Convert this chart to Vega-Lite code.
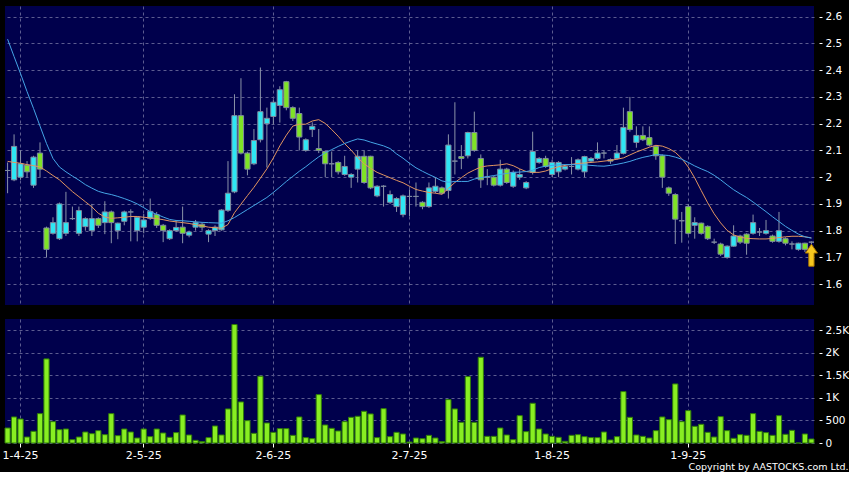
{
"$schema": "https://vega.github.io/schema/vega-lite/v6.json",
"background": "#000000",
"padding": {"left": 2, "top": 6, "right": 0, "bottom": 0},
"config": {
 "view": {"fill": "#00004c", "stroke": null},
 "axis": {"labelFont": "DejaVu Sans", "labelColor": "#ffffff", "gridColor": "#5c5c90", "gridDash": [3, 3], "gridWidth": 1, "tickColor": "#ffffff", "domain": false, "title": null, "labelOverlap": false},
 "concat": {"spacing": 14}
},
"title": {"text": "Copyright by AASTOCKS.com Ltd.", "orient": "bottom", "anchor": "end", "color": "#ffffff", "font": "DejaVu Sans", "fontSize": 9.5, "fontWeight": "normal", "offset": 2},
"data": {"values": [
{"d":"2025-03-27","o":2.025,"h":2.055,"l":1.94,"c":2.025,"v":333,"m1":2.059,"m2":2.516},
{"d":"2025-03-28","o":1.99,"h":2.16,"l":1.985,"c":2.115,"v":578,"m1":2.055,"m2":2.451},
{"d":"2025-03-31","o":2.0,"h":2.10,"l":1.99,"c":2.05,"v":533,"m1":2.052,"m2":2.387},
{"d":"2025-04-01","o":2.045,"h":2.06,"l":2.0,"c":2.02,"v":133,"m1":2.047,"m2":2.320},
{"d":"2025-04-02","o":1.97,"h":2.08,"l":1.96,"c":2.075,"v":259,"m1":2.043,"m2":2.257},
{"d":"2025-04-03","o":2.09,"h":2.13,"l":2.0,"c":2.03,"v":652,"m1":2.038,"m2":2.191},
{"d":"2025-04-07","o":1.81,"h":1.815,"l":1.70,"c":1.73,"v":1867,"m1":2.023,"m2":2.126},
{"d":"2025-04-08","o":1.79,"h":1.85,"l":1.785,"c":1.83,"v":474,"m1":2.006,"m2":2.070},
{"d":"2025-04-09","o":1.77,"h":1.905,"l":1.765,"c":1.90,"v":296,"m1":1.990,"m2":2.038},
{"d":"2025-04-10","o":1.79,"h":1.945,"l":1.78,"c":1.83,"v":311,"m1":1.968,"m2":2.020},
{"d":"2025-04-11","o":1.845,"h":1.89,"l":1.84,"c":1.845,"v":74,"m1":1.946,"m2":2.004},
{"d":"2025-04-14","o":1.79,"h":1.89,"l":1.78,"c":1.875,"v":133,"m1":1.927,"m2":1.989},
{"d":"2025-04-15","o":1.815,"h":1.85,"l":1.80,"c":1.845,"v":244,"m1":1.908,"m2":1.972},
{"d":"2025-04-16","o":1.80,"h":1.90,"l":1.78,"c":1.845,"v":207,"m1":1.889,"m2":1.959},
{"d":"2025-04-17","o":1.845,"h":1.85,"l":1.81,"c":1.82,"v":274,"m1":1.865,"m2":1.947},
{"d":"2025-04-22","o":1.83,"h":1.91,"l":1.787,"c":1.87,"v":185,"m1":1.851,"m2":1.940},
{"d":"2025-04-23","o":1.87,"h":1.875,"l":1.753,"c":1.83,"v":652,"m1":1.846,"m2":1.935},
{"d":"2025-04-24","o":1.80,"h":1.83,"l":1.768,"c":1.828,"v":163,"m1":1.848,"m2":1.928},
{"d":"2025-04-25","o":1.835,"h":1.875,"l":1.82,"c":1.87,"v":311,"m1":1.850,"m2":1.920},
{"d":"2025-04-28","o":1.87,"h":1.88,"l":1.76,"c":1.87,"v":244,"m1":1.853,"m2":1.911},
{"d":"2025-04-29","o":1.80,"h":1.85,"l":1.76,"c":1.85,"v":111,"m1":1.853,"m2":1.900},
{"d":"2025-04-30","o":1.813,"h":1.862,"l":1.79,"c":1.84,"v":311,"m1":1.850,"m2":1.886},
{"d":"2025-05-02","o":1.846,"h":1.92,"l":1.84,"c":1.872,"v":141,"m1":1.848,"m2":1.871},
{"d":"2025-05-06","o":1.86,"h":1.87,"l":1.81,"c":1.82,"v":311,"m1":1.845,"m2":1.861},
{"d":"2025-05-07","o":1.82,"h":1.825,"l":1.757,"c":1.80,"v":222,"m1":1.841,"m2":1.851},
{"d":"2025-05-08","o":1.77,"h":1.805,"l":1.765,"c":1.80,"v":126,"m1":1.836,"m2":1.842},
{"d":"2025-05-09","o":1.80,"h":1.84,"l":1.795,"c":1.812,"v":230,"m1":1.833,"m2":1.838},
{"d":"2025-05-12","o":1.813,"h":1.89,"l":1.753,"c":1.79,"v":622,"m1":1.830,"m2":1.837},
{"d":"2025-05-13","o":1.783,"h":1.80,"l":1.775,"c":1.795,"v":178,"m1":1.827,"m2":1.835},
{"d":"2025-05-14","o":1.813,"h":1.84,"l":1.80,"c":1.83,"v":59,"m1":1.822,"m2":1.833},
{"d":"2025-05-15","o":1.824,"h":1.83,"l":1.80,"c":1.813,"v":30,"m1":1.818,"m2":1.831},
{"d":"2025-05-16","o":1.787,"h":1.805,"l":1.757,"c":1.80,"v":119,"m1":1.813,"m2":1.830},
{"d":"2025-05-19","o":1.80,"h":1.82,"l":1.78,"c":1.813,"v":378,"m1":1.811,"m2":1.829},
{"d":"2025-05-20","o":1.803,"h":1.88,"l":1.80,"c":1.877,"v":178,"m1":1.809,"m2":1.828},
{"d":"2025-05-21","o":1.876,"h":2.06,"l":1.87,"c":1.94,"v":756,"m1":1.823,"m2":1.837},
{"d":"2025-05-22","o":1.945,"h":2.31,"l":1.94,"c":2.23,"v":2630,"m1":1.867,"m2":1.849},
{"d":"2025-05-23","o":2.23,"h":2.37,"l":2.085,"c":2.09,"v":911,"m1":1.899,"m2":1.864},
{"d":"2025-05-26","o":2.09,"h":2.095,"l":2.007,"c":2.03,"v":496,"m1":1.931,"m2":1.879},
{"d":"2025-05-27","o":2.05,"h":2.18,"l":2.045,"c":2.137,"v":215,"m1":1.962,"m2":1.894},
{"d":"2025-05-28","o":2.14,"h":2.41,"l":2.13,"c":2.245,"v":1482,"m1":1.996,"m2":1.909},
{"d":"2025-05-29","o":2.20,"h":2.26,"l":2.036,"c":2.22,"v":444,"m1":2.031,"m2":1.924},
{"d":"2025-05-30","o":2.227,"h":2.29,"l":2.197,"c":2.28,"v":237,"m1":2.072,"m2":1.943},
{"d":"2025-06-02","o":2.268,"h":2.34,"l":2.204,"c":2.327,"v":319,"m1":2.117,"m2":1.963},
{"d":"2025-06-03","o":2.357,"h":2.36,"l":2.25,"c":2.26,"v":319,"m1":2.157,"m2":1.984},
{"d":"2025-06-04","o":2.26,"h":2.265,"l":2.21,"c":2.22,"v":170,"m1":2.191,"m2":2.003},
{"d":"2025-06-05","o":2.238,"h":2.26,"l":2.10,"c":2.15,"v":578,"m1":2.198,"m2":2.022},
{"d":"2025-06-06","o":2.10,"h":2.145,"l":2.095,"c":2.14,"v":119,"m1":2.198,"m2":2.039},
{"d":"2025-06-09","o":2.178,"h":2.205,"l":2.15,"c":2.19,"v":96,"m1":2.210,"m2":2.058},
{"d":"2025-06-10","o":2.107,"h":2.18,"l":2.09,"c":2.10,"v":1074,"m1":2.215,"m2":2.076},
{"d":"2025-06-11","o":2.096,"h":2.10,"l":2.0,"c":2.05,"v":400,"m1":2.201,"m2":2.091},
{"d":"2025-06-12","o":2.05,"h":2.096,"l":2.0,"c":2.05,"v":326,"m1":2.178,"m2":2.103},
{"d":"2025-06-13","o":2.055,"h":2.06,"l":2.01,"c":2.02,"v":267,"m1":2.153,"m2":2.115},
{"d":"2025-06-16","o":2.01,"h":2.08,"l":2.005,"c":2.04,"v":474,"m1":2.125,"m2":2.126},
{"d":"2025-06-17","o":2.0,"h":2.015,"l":1.96,"c":2.01,"v":570,"m1":2.101,"m2":2.135},
{"d":"2025-06-18","o":2.03,"h":2.10,"l":1.98,"c":2.078,"v":593,"m1":2.073,"m2":2.143},
{"d":"2025-06-19","o":2.078,"h":2.10,"l":1.975,"c":1.98,"v":704,"m1":2.050,"m2":2.139},
{"d":"2025-06-20","o":2.078,"h":2.08,"l":1.955,"c":1.96,"v":645,"m1":2.033,"m2":2.131},
{"d":"2025-06-23","o":1.93,"h":1.97,"l":1.925,"c":1.966,"v":119,"m1":2.018,"m2":2.124},
{"d":"2025-06-24","o":1.966,"h":1.97,"l":1.89,"c":1.966,"v":763,"m1":2.008,"m2":2.117},
{"d":"2025-06-25","o":1.906,"h":1.95,"l":1.90,"c":1.935,"v":141,"m1":1.998,"m2":2.107},
{"d":"2025-06-26","o":1.89,"h":1.925,"l":1.87,"c":1.92,"v":237,"m1":1.988,"m2":2.087},
{"d":"2025-06-27","o":1.86,"h":1.935,"l":1.85,"c":1.93,"v":200,"m1":1.979,"m2":2.071},
{"d":"2025-06-30","o":1.928,"h":1.954,"l":1.854,"c":1.928,"v":22,"m1":1.966,"m2":2.052},
{"d":"2025-07-02","o":1.928,"h":1.98,"l":1.89,"c":1.928,"v":111,"m1":1.954,"m2":2.035},
{"d":"2025-07-03","o":1.906,"h":1.91,"l":1.88,"c":1.89,"v":96,"m1":1.948,"m2":2.022},
{"d":"2025-07-04","o":1.89,"h":1.98,"l":1.885,"c":1.96,"v":170,"m1":1.943,"m2":2.010},
{"d":"2025-07-07","o":1.947,"h":2.0,"l":1.94,"c":1.966,"v":111,"m1":1.940,"m2":1.999},
{"d":"2025-07-08","o":1.96,"h":1.965,"l":1.935,"c":1.94,"v":30,"m1":1.936,"m2":1.986},
{"d":"2025-07-09","o":1.95,"h":2.16,"l":1.92,"c":2.12,"v":963,"m1":1.958,"m2":1.981},
{"d":"2025-07-10","o":2.06,"h":2.28,"l":2.01,"c":2.06,"v":756,"m1":1.980,"m2":1.984},
{"d":"2025-07-11","o":2.077,"h":2.12,"l":2.03,"c":2.07,"v":459,"m1":1.998,"m2":1.984},
{"d":"2025-07-14","o":2.08,"h":2.17,"l":2.07,"c":2.167,"v":1475,"m1":2.015,"m2":1.984},
{"d":"2025-07-15","o":2.167,"h":2.245,"l":2.095,"c":2.10,"v":459,"m1":2.027,"m2":1.993},
{"d":"2025-07-16","o":2.07,"h":2.085,"l":1.96,"c":1.99,"v":1904,"m1":2.038,"m2":1.998},
{"d":"2025-07-17","o":2.0,"h":2.03,"l":1.97,"c":2.0,"v":148,"m1":2.042,"m2":2.002},
{"d":"2025-07-18","o":2.0,"h":2.005,"l":1.965,"c":1.97,"v":148,"m1":2.044,"m2":2.006},
{"d":"2025-07-21","o":1.97,"h":2.065,"l":1.965,"c":2.03,"v":333,"m1":2.046,"m2":2.010},
{"d":"2025-07-22","o":2.03,"h":2.035,"l":1.975,"c":1.98,"v":178,"m1":2.050,"m2":2.014},
{"d":"2025-07-23","o":1.966,"h":2.025,"l":1.96,"c":2.018,"v":74,"m1":2.043,"m2":2.018},
{"d":"2025-07-24","o":2.0,"h":2.03,"l":1.99,"c":2.01,"v":607,"m1":2.031,"m2":2.019},
{"d":"2025-07-25","o":1.96,"h":1.985,"l":1.955,"c":1.98,"v":252,"m1":2.021,"m2":2.021},
{"d":"2025-07-28","o":2.018,"h":2.17,"l":2.01,"c":2.096,"v":882,"m1":2.018,"m2":2.026},
{"d":"2025-07-29","o":2.055,"h":2.075,"l":2.05,"c":2.07,"v":311,"m1":2.018,"m2":2.036},
{"d":"2025-07-30","o":2.07,"h":2.08,"l":2.035,"c":2.04,"v":200,"m1":2.023,"m2":2.041},
{"d":"2025-07-31","o":2.01,"h":2.065,"l":2.0,"c":2.055,"v":148,"m1":2.032,"m2":2.044},
{"d":"2025-08-01","o":2.02,"h":2.06,"l":2.0,"c":2.055,"v":126,"m1":2.039,"m2":2.046},
{"d":"2025-08-04","o":2.03,"h":2.045,"l":2.025,"c":2.04,"v":37,"m1":2.044,"m2":2.047},
{"d":"2025-08-05","o":2.04,"h":2.075,"l":2.01,"c":2.04,"v":170,"m1":2.048,"m2":2.047},
{"d":"2025-08-06","o":2.03,"h":2.07,"l":2.025,"c":2.065,"v":185,"m1":2.051,"m2":2.047},
{"d":"2025-08-07","o":2.02,"h":2.08,"l":2.0,"c":2.077,"v":141,"m1":2.053,"m2":2.046},
{"d":"2025-08-08","o":2.06,"h":2.075,"l":2.055,"c":2.07,"v":119,"m1":2.055,"m2":2.044},
{"d":"2025-08-11","o":2.07,"h":2.13,"l":2.065,"c":2.09,"v":119,"m1":2.057,"m2":2.042},
{"d":"2025-08-12","o":2.09,"h":2.10,"l":2.07,"c":2.09,"v":244,"m1":2.060,"m2":2.041},
{"d":"2025-08-13","o":2.066,"h":2.07,"l":2.05,"c":2.06,"v":67,"m1":2.063,"m2":2.044},
{"d":"2025-08-14","o":2.07,"h":2.12,"l":2.065,"c":2.09,"v":141,"m1":2.067,"m2":2.048},
{"d":"2025-08-15","o":2.089,"h":2.26,"l":2.085,"c":2.186,"v":1141,"m1":2.072,"m2":2.053},
{"d":"2025-08-18","o":2.245,"h":2.30,"l":2.17,"c":2.178,"v":570,"m1":2.083,"m2":2.059},
{"d":"2025-08-19","o":2.13,"h":2.19,"l":2.11,"c":2.156,"v":178,"m1":2.094,"m2":2.067},
{"d":"2025-08-20","o":2.156,"h":2.19,"l":2.135,"c":2.14,"v":148,"m1":2.103,"m2":2.074},
{"d":"2025-08-21","o":2.148,"h":2.19,"l":2.115,"c":2.12,"v":111,"m1":2.112,"m2":2.079},
{"d":"2025-08-22","o":2.115,"h":2.12,"l":2.065,"c":2.08,"v":274,"m1":2.119,"m2":2.085},
{"d":"2025-08-25","o":2.08,"h":2.085,"l":1.96,"c":2.0,"v":578,"m1":2.116,"m2":2.083},
{"d":"2025-08-26","o":1.96,"h":1.965,"l":1.93,"c":1.94,"v":519,"m1":2.107,"m2":2.081},
{"d":"2025-08-27","o":1.935,"h":1.94,"l":1.75,"c":1.843,"v":1311,"m1":2.093,"m2":2.075},
{"d":"2025-08-28","o":1.837,"h":1.87,"l":1.755,"c":1.837,"v":474,"m1":2.070,"m2":2.067},
{"d":"2025-08-29","o":1.89,"h":1.90,"l":1.785,"c":1.79,"v":719,"m1":2.038,"m2":2.055},
{"d":"2025-09-01","o":1.82,"h":1.85,"l":1.77,"c":1.83,"v":370,"m1":1.997,"m2":2.042},
{"d":"2025-09-02","o":1.828,"h":1.83,"l":1.785,"c":1.79,"v":415,"m1":1.950,"m2":2.031},
{"d":"2025-09-03","o":1.816,"h":1.82,"l":1.765,"c":1.77,"v":237,"m1":1.904,"m2":2.021},
{"d":"2025-09-04","o":1.757,"h":1.77,"l":1.75,"c":1.757,"v":133,"m1":1.863,"m2":2.007},
{"d":"2025-09-05","o":1.75,"h":1.755,"l":1.705,"c":1.712,"v":585,"m1":1.829,"m2":1.990},
{"d":"2025-09-08","o":1.70,"h":1.745,"l":1.695,"c":1.742,"v":274,"m1":1.801,"m2":1.971},
{"d":"2025-09-09","o":1.742,"h":1.82,"l":1.74,"c":1.78,"v":104,"m1":1.784,"m2":1.953},
{"d":"2025-09-10","o":1.78,"h":1.785,"l":1.75,"c":1.757,"v":185,"m1":1.776,"m2":1.938},
{"d":"2025-09-11","o":1.787,"h":1.79,"l":1.71,"c":1.753,"v":170,"m1":1.771,"m2":1.924},
{"d":"2025-09-12","o":1.79,"h":1.86,"l":1.785,"c":1.83,"v":652,"m1":1.770,"m2":1.907},
{"d":"2025-09-15","o":1.795,"h":1.81,"l":1.78,"c":1.795,"v":259,"m1":1.769,"m2":1.889},
{"d":"2025-09-16","o":1.79,"h":1.84,"l":1.785,"c":1.80,"v":230,"m1":1.769,"m2":1.871},
{"d":"2025-09-17","o":1.78,"h":1.785,"l":1.755,"c":1.76,"v":170,"m1":1.771,"m2":1.852},
{"d":"2025-09-18","o":1.76,"h":1.87,"l":1.755,"c":1.80,"v":607,"m1":1.774,"m2":1.834},
{"d":"2025-09-19","o":1.77,"h":1.775,"l":1.745,"c":1.753,"v":193,"m1":1.777,"m2":1.816},
{"d":"2025-09-22","o":1.75,"h":1.76,"l":1.73,"c":1.75,"v":281,"m1":1.779,"m2":1.801},
{"d":"2025-09-23","o":1.73,"h":1.755,"l":1.725,"c":1.753,"v":0,"m1":1.779,"m2":1.787},
{"d":"2025-09-24","o":1.753,"h":1.755,"l":1.72,"c":1.73,"v":200,"m1":1.777,"m2":1.777},
{"d":"2025-09-25","o":1.757,"h":1.76,"l":1.75,"c":1.757,"v":89,"m1":1.773,"m2":1.772}
]},
"vconcat": [
 {
  "width": 809, "height": 299,
  "encoding": {
   "x": {"field": "d", "type": "ordinal", "scale": {"paddingInner": 0.2, "paddingOuter": 0},
    "axis": {"values": ["2025-03-31","2025-04-30","2025-05-30","2025-06-30","2025-07-31","2025-08-29"], "labels": false, "ticks": false, "domain": false, "grid": true, "title": null}}
  },
  "layer": [
   {"mark": {"type": "rule", "color": "#8a93a8", "strokeWidth": 1},
    "encoding": {
     "y": {"field": "l", "type": "quantitative", "title": null, "scale": {"domain": [1.522, 2.64], "zero": false, "nice": false},
      "axis": {"orient": "right", "values": [1.6,1.7,1.8,1.9,2.0,2.1,2.2,2.3,2.4,2.5,2.6], "format": ".1~f", "offset": 5, "tickSize": 3, "labelPadding": 3, "labelFontSize": 10.5, "labelOverlap": false, "grid": true, "title": null}},
     "y2": {"field": "h"}}},
   {"mark": {"type": "bar", "stroke": "#7f8aa0", "strokeWidth": 1},
    "encoding": {
     "y": {"field": "o", "type": "quantitative", "title": null,
      "axis": {"orient": "right", "values": [1.6,1.7,1.8,1.9,2.0,2.1,2.2,2.3,2.4,2.5,2.6], "format": ".1~f", "offset": 5, "tickSize": 3, "labelPadding": 3, "labelFontSize": 10.5, "labelOverlap": false, "grid": true, "title": null}},
     "y2": {"field": "c"},
     "fill": {"condition": [{"test": "datum.c > datum.o", "value": "#2ee6f4"}, {"test": "datum.c < datum.o", "value": "#7fe326"}], "value": "#9aa39a"}}},
   {"mark": {"type": "line", "color": "#e29560", "strokeWidth": 1},
    "encoding": {"y": {"field": "m1", "type": "quantitative", "title": null,
      "axis": {"orient": "right", "values": [1.6,1.7,1.8,1.9,2.0,2.1,2.2,2.3,2.4,2.5,2.6], "format": ".1~f", "offset": 5, "tickSize": 3, "labelPadding": 3, "labelFontSize": 10.5, "labelOverlap": false, "grid": true, "title": null}}}},
   {"mark": {"type": "line", "color": "#45a5e6", "strokeWidth": 1},
    "encoding": {"y": {"field": "m2", "type": "quantitative", "title": null,
      "axis": {"orient": "right", "values": [1.6,1.7,1.8,1.9,2.0,2.1,2.2,2.3,2.4,2.5,2.6], "format": ".1~f", "offset": 5, "tickSize": 3, "labelPadding": 3, "labelFontSize": 10.5, "labelOverlap": false, "grid": true, "title": null}}}},
   {"data": {"values": [{"d": "2025-09-25", "p": 1.708}]},
    "mark": {"type": "point", "shape": "M0,-1L0.55,-0.2L0.24,-0.2L0.24,1L-0.24,1L-0.24,-0.2L-0.55,-0.2Z", "size": 484, "filled": true, "fill": "#f7c81e", "stroke": "#a87400", "strokeWidth": 1, "opacity": 1},
    "encoding": {"y": {"field": "p", "type": "quantitative", "title": null,
      "axis": {"orient": "right", "values": [1.6,1.7,1.8,1.9,2.0,2.1,2.2,2.3,2.4,2.5,2.6], "format": ".1~f", "offset": 5, "tickSize": 3, "labelPadding": 3, "labelFontSize": 10.5, "labelOverlap": false, "grid": true, "title": null}}}}
  ]
 },
 {
  "width": 809, "height": 124,
  "mark": {"type": "bar", "fill": "#88ee22", "stroke": "#2f7d08", "strokeWidth": 1},
  "encoding": {
   "x": {"field": "d", "type": "ordinal", "scale": {"paddingInner": 0.2, "paddingOuter": 0},
    "axis": {"values": ["2025-03-31","2025-04-30","2025-05-30","2025-06-30","2025-07-31","2025-08-29"],
     "labelExpr": "datum.value == '2025-03-31' ? '1-4-25' : datum.value == '2025-04-30' ? '2-5-25' : datum.value == '2025-05-30' ? '2-6-25' : datum.value == '2025-06-30' ? '2-7-25' : datum.value == '2025-07-31' ? '1-8-25' : '1-9-25'",
     "labelAngle": 0, "labelFontSize": 11, "labelPadding": 2, "tickSize": 4, "grid": true, "domain": false, "title": null}},
   "y": {"field": "v", "type": "quantitative", "title": null, "scale": {"domain": [0, 2753], "nice": false},
    "axis": {"orient": "right", "values": [0, 500, 1000, 1500, 2000, 2500], "labelExpr": "datum.value >= 1000 ? format(datum.value / 1000, '~g') + 'K' : format(datum.value, 'd')", "offset": 5, "tickSize": 3, "labelPadding": 3, "labelFontSize": 10.5, "labelOverlap": false, "grid": true, "title": null}}
  }
 }
]
}
